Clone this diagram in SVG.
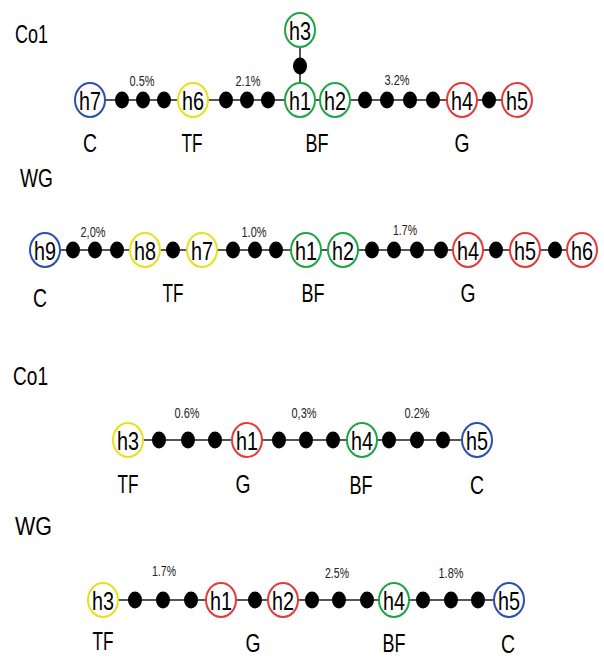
<svg xmlns="http://www.w3.org/2000/svg" width="604" height="657" viewBox="0 0 604 657">
<style>
.ln{stroke:#555;stroke-width:2;fill:none}
.n{fill:#fff;stroke-width:2}
.b{stroke:#2e4fae}.y{stroke:#e8e01c}.g{stroke:#1fa548}.r{stroke:#e63a3a}
.d{fill:#000}
.nt{font-family:"Liberation Sans",Arial,sans-serif;font-size:26px;text-anchor:middle;fill:#000}
.lb{font-family:"Liberation Sans",Arial,sans-serif;font-size:25px;text-anchor:middle;fill:#000}
.pc{font-family:"Liberation Sans",Arial,sans-serif;font-size:15px;text-anchor:middle;fill:#222}
.tt{font-family:"Liberation Sans",Arial,sans-serif;font-size:25px;fill:#000}
</style>
<rect width="604" height="657" fill="#fff"/>
<g id="connectors">
<line class="ln" x1="90" y1="100" x2="517" y2="100"/>
<line class="ln" x1="300" y1="30" x2="300" y2="100"/>
<line class="ln" x1="45" y1="250" x2="582" y2="250"/>
<line class="ln" x1="128" y1="440" x2="477" y2="440"/>
<line class="ln" x1="103" y1="600" x2="509" y2="600"/>
</g>
<g id="missing">
<ellipse class="d" cx="122" cy="100" rx="7" ry="8.5"/><ellipse class="d" cx="143" cy="100" rx="7" ry="8.5"/><ellipse class="d" cx="164" cy="100" rx="7" ry="8.5"/>
<ellipse class="d" cx="226" cy="100" rx="7" ry="8.5"/><ellipse class="d" cx="247" cy="100" rx="7" ry="8.5"/><ellipse class="d" cx="268" cy="100" rx="7" ry="8.5"/>
<ellipse class="d" cx="365" cy="100" rx="7" ry="8.5"/><ellipse class="d" cx="387" cy="100" rx="7" ry="8.5"/><ellipse class="d" cx="410" cy="100" rx="7" ry="8.5"/><ellipse class="d" cx="433" cy="100" rx="7" ry="8.5"/>
<ellipse class="d" cx="489" cy="100" rx="7" ry="8.5"/>
<ellipse class="d" cx="300" cy="66" rx="7" ry="8.5"/>
<ellipse class="d" cx="73" cy="250" rx="7" ry="8.5"/><ellipse class="d" cx="95" cy="250" rx="7" ry="8.5"/><ellipse class="d" cx="117" cy="250" rx="7" ry="8.5"/>
<ellipse class="d" cx="173" cy="250" rx="7" ry="8.5"/>
<ellipse class="d" cx="233" cy="250" rx="7" ry="8.5"/><ellipse class="d" cx="255" cy="250" rx="7" ry="8.5"/><ellipse class="d" cx="276" cy="250" rx="7" ry="8.5"/>
<ellipse class="d" cx="372" cy="250" rx="7" ry="8.5"/><ellipse class="d" cx="394" cy="250" rx="7" ry="8.5"/><ellipse class="d" cx="417" cy="250" rx="7" ry="8.5"/><ellipse class="d" cx="441" cy="250" rx="7" ry="8.5"/>
<ellipse class="d" cx="496" cy="250" rx="7" ry="8.5"/><ellipse class="d" cx="555" cy="250" rx="7" ry="8.5"/>
<ellipse class="d" cx="159" cy="440" rx="7" ry="8.5"/><ellipse class="d" cx="188" cy="440" rx="7" ry="8.5"/><ellipse class="d" cx="215" cy="440" rx="7" ry="8.5"/>
<ellipse class="d" cx="279" cy="440" rx="7" ry="8.5"/><ellipse class="d" cx="306" cy="440" rx="7" ry="8.5"/><ellipse class="d" cx="333" cy="440" rx="7" ry="8.5"/>
<ellipse class="d" cx="389" cy="440" rx="7" ry="8.5"/><ellipse class="d" cx="417" cy="440" rx="7" ry="8.5"/><ellipse class="d" cx="443" cy="440" rx="7" ry="8.5"/>
<ellipse class="d" cx="135" cy="600" rx="7" ry="8.5"/><ellipse class="d" cx="163" cy="600" rx="7" ry="8.5"/><ellipse class="d" cx="191" cy="600" rx="7" ry="8.5"/>
<ellipse class="d" cx="255" cy="600" rx="7" ry="8.5"/>
<ellipse class="d" cx="312" cy="600" rx="7" ry="8.5"/><ellipse class="d" cx="339" cy="600" rx="7" ry="8.5"/><ellipse class="d" cx="367" cy="600" rx="7" ry="8.5"/>
<ellipse class="d" cx="423" cy="600" rx="7" ry="8.5"/><ellipse class="d" cx="451" cy="600" rx="7" ry="8.5"/><ellipse class="d" cx="478" cy="600" rx="7" ry="8.5"/>
</g>
<!-- Row 1 Co1 -->
<g id="r1-h7"><ellipse class="n b" cx="90" cy="100" rx="15" ry="17"/><text class="nt" x="90" y="110" textLength="22" lengthAdjust="spacingAndGlyphs">h7</text></g>
<g id="r1-h6"><ellipse class="n y" cx="193" cy="100" rx="15" ry="17"/><text class="nt" x="193" y="110" textLength="22" lengthAdjust="spacingAndGlyphs">h6</text></g>
<g id="r1-h1"><ellipse class="n g" cx="300" cy="100" rx="15" ry="17"/><text class="nt" x="300" y="110" textLength="22" lengthAdjust="spacingAndGlyphs">h1</text></g>
<g id="r1-h2"><ellipse class="n g" cx="335" cy="100" rx="15" ry="17"/><text class="nt" x="335" y="110" textLength="22" lengthAdjust="spacingAndGlyphs">h2</text></g>
<g id="r1-h3"><ellipse class="n g" cx="300" cy="30" rx="15" ry="17"/><text class="nt" x="300" y="40" textLength="22" lengthAdjust="spacingAndGlyphs">h3</text></g>
<g id="r1-h4"><ellipse class="n r" cx="462" cy="100" rx="15" ry="17"/><text class="nt" x="462" y="110" textLength="22" lengthAdjust="spacingAndGlyphs">h4</text></g>
<g id="r1-h5"><ellipse class="n r" cx="517" cy="100" rx="15" ry="17"/><text class="nt" x="517" y="110" textLength="22" lengthAdjust="spacingAndGlyphs">h5</text></g>
<g id="r1-labels">
<text class="tt" x="15" y="43" textLength="33" lengthAdjust="spacingAndGlyphs">Co1</text>
<text class="pc" x="142" y="86" textLength="25" lengthAdjust="spacingAndGlyphs">0.5%</text>
<text class="pc" x="248" y="86" textLength="25" lengthAdjust="spacingAndGlyphs">2.1%</text>
<text class="pc" x="397" y="85" textLength="25" lengthAdjust="spacingAndGlyphs">3.2%</text>
<text class="lb" x="90" y="152" textLength="14" lengthAdjust="spacingAndGlyphs">C</text>
<text class="lb" x="192" y="152" textLength="21" lengthAdjust="spacingAndGlyphs">TF</text>
<text class="lb" x="317" y="152" textLength="23" lengthAdjust="spacingAndGlyphs">BF</text>
<text class="lb" x="462" y="152" textLength="15" lengthAdjust="spacingAndGlyphs">G</text>
</g>
<!-- Row 2 WG -->
<g id="r2-h9"><ellipse class="n b" cx="45" cy="250" rx="15" ry="17"/><text class="nt" x="45" y="260" textLength="22" lengthAdjust="spacingAndGlyphs">h9</text></g>
<g id="r2-h8"><ellipse class="n y" cx="145" cy="250" rx="15" ry="17"/><text class="nt" x="145" y="260" textLength="22" lengthAdjust="spacingAndGlyphs">h8</text></g>
<g id="r2-h7"><ellipse class="n y" cx="202" cy="250" rx="15" ry="17"/><text class="nt" x="202" y="260" textLength="22" lengthAdjust="spacingAndGlyphs">h7</text></g>
<g id="r2-h1"><ellipse class="n g" cx="306" cy="250" rx="15" ry="17"/><text class="nt" x="306" y="260" textLength="22" lengthAdjust="spacingAndGlyphs">h1</text></g>
<g id="r2-h2"><ellipse class="n g" cx="343" cy="250" rx="15" ry="17"/><text class="nt" x="343" y="260" textLength="22" lengthAdjust="spacingAndGlyphs">h2</text></g>
<g id="r2-h4"><ellipse class="n r" cx="468" cy="250" rx="15" ry="17"/><text class="nt" x="468" y="260" textLength="22" lengthAdjust="spacingAndGlyphs">h4</text></g>
<g id="r2-h5"><ellipse class="n r" cx="525" cy="250" rx="15" ry="17"/><text class="nt" x="525" y="260" textLength="22" lengthAdjust="spacingAndGlyphs">h5</text></g>
<g id="r2-h6"><ellipse class="n r" cx="582" cy="250" rx="15" ry="17"/><text class="nt" x="582" y="260" textLength="22" lengthAdjust="spacingAndGlyphs">h6</text></g>
<g id="r2-labels">
<text class="tt" x="20" y="187" textLength="33" lengthAdjust="spacingAndGlyphs">WG</text>
<text class="pc" x="93" y="237" textLength="25" lengthAdjust="spacingAndGlyphs">2,0%</text>
<text class="pc" x="254" y="237" textLength="25" lengthAdjust="spacingAndGlyphs">1.0%</text>
<text class="pc" x="405" y="235" textLength="24" lengthAdjust="spacingAndGlyphs">1.7%</text>
<text class="lb" x="40" y="307" textLength="14" lengthAdjust="spacingAndGlyphs">C</text>
<text class="lb" x="173" y="302" textLength="21" lengthAdjust="spacingAndGlyphs">TF</text>
<text class="lb" x="313" y="302" textLength="23" lengthAdjust="spacingAndGlyphs">BF</text>
<text class="lb" x="468" y="302" textLength="15" lengthAdjust="spacingAndGlyphs">G</text>
</g>
<!-- Row 3 Co1 -->
<g id="r3-h3"><ellipse class="n y" cx="128" cy="440" rx="15" ry="17"/><text class="nt" x="128" y="450" textLength="22" lengthAdjust="spacingAndGlyphs">h3</text></g>
<g id="r3-h1"><ellipse class="n r" cx="247" cy="440" rx="15" ry="17"/><text class="nt" x="247" y="450" textLength="22" lengthAdjust="spacingAndGlyphs">h1</text></g>
<g id="r3-h4"><ellipse class="n g" cx="362" cy="440" rx="15" ry="17"/><text class="nt" x="362" y="450" textLength="22" lengthAdjust="spacingAndGlyphs">h4</text></g>
<g id="r3-h5"><ellipse class="n b" cx="477" cy="440" rx="15" ry="17"/><text class="nt" x="477" y="450" textLength="22" lengthAdjust="spacingAndGlyphs">h5</text></g>
<g id="r3-labels">
<text class="tt" x="13" y="385" textLength="35" lengthAdjust="spacingAndGlyphs">Co1</text>
<text class="pc" x="187" y="418" textLength="25" lengthAdjust="spacingAndGlyphs">0.6%</text>
<text class="pc" x="304" y="418" textLength="25" lengthAdjust="spacingAndGlyphs">0,3%</text>
<text class="pc" x="417" y="418" textLength="25" lengthAdjust="spacingAndGlyphs">0.2%</text>
<text class="lb" x="128" y="493" textLength="21" lengthAdjust="spacingAndGlyphs">TF</text>
<text class="lb" x="243" y="493" textLength="15" lengthAdjust="spacingAndGlyphs">G</text>
<text class="lb" x="361" y="494" textLength="23" lengthAdjust="spacingAndGlyphs">BF</text>
<text class="lb" x="477" y="494" textLength="14" lengthAdjust="spacingAndGlyphs">C</text>
</g>
<!-- Row 4 WG -->
<g id="r4-h3"><ellipse class="n y" cx="103" cy="600" rx="15" ry="17"/><text class="nt" x="103" y="610" textLength="22" lengthAdjust="spacingAndGlyphs">h3</text></g>
<g id="r4-h1"><ellipse class="n r" cx="221" cy="600" rx="15" ry="17"/><text class="nt" x="221" y="610" textLength="22" lengthAdjust="spacingAndGlyphs">h1</text></g>
<g id="r4-h2"><ellipse class="n r" cx="283" cy="600" rx="15" ry="17"/><text class="nt" x="283" y="610" textLength="22" lengthAdjust="spacingAndGlyphs">h2</text></g>
<g id="r4-h4"><ellipse class="n g" cx="394" cy="600" rx="15" ry="17"/><text class="nt" x="394" y="610" textLength="22" lengthAdjust="spacingAndGlyphs">h4</text></g>
<g id="r4-h5"><ellipse class="n b" cx="509" cy="600" rx="15" ry="17"/><text class="nt" x="509" y="610" textLength="22" lengthAdjust="spacingAndGlyphs">h5</text></g>
<g id="r4-labels">
<text class="tt" x="15" y="535" textLength="37" lengthAdjust="spacingAndGlyphs">WG</text>
<text class="pc" x="164" y="576" textLength="24" lengthAdjust="spacingAndGlyphs">1.7%</text>
<text class="pc" x="337" y="578" textLength="24" lengthAdjust="spacingAndGlyphs">2.5%</text>
<text class="pc" x="451" y="578" textLength="25" lengthAdjust="spacingAndGlyphs">1.8%</text>
<text class="lb" x="103" y="650" textLength="21" lengthAdjust="spacingAndGlyphs">TF</text>
<text class="lb" x="253" y="652" textLength="15" lengthAdjust="spacingAndGlyphs">G</text>
<text class="lb" x="394" y="652" textLength="23" lengthAdjust="spacingAndGlyphs">BF</text>
<text class="lb" x="508" y="653" textLength="14" lengthAdjust="spacingAndGlyphs">C</text>
</g>
</svg>
